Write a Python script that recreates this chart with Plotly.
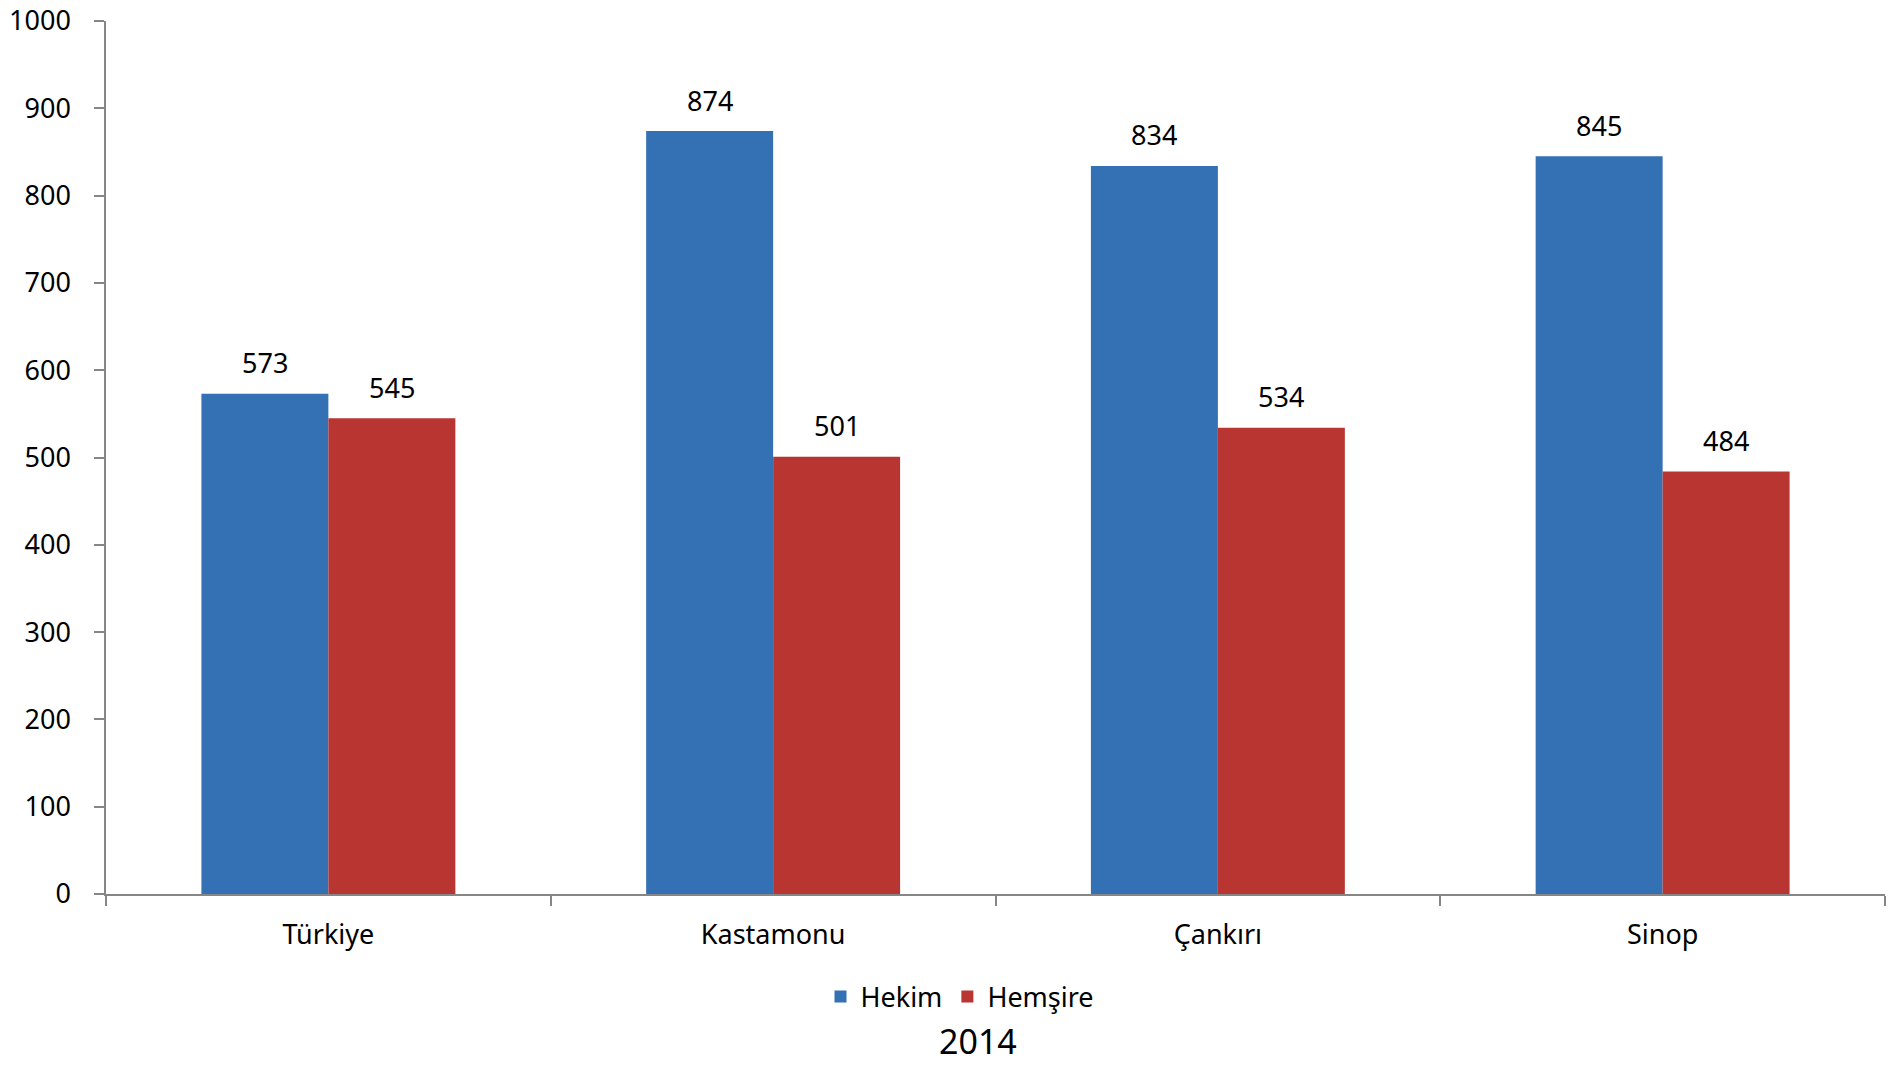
import plotly.graph_objects as go

categories = ["Türkiye", "Kastamonu", "Çankırı", "Sinop"]
hekim = [573, 874, 834, 845]
hemsire = [545, 501, 534, 484]
series_names = ["Hekim", "Hemşire"]
y_ticks = [0, 100, 200, 300, 400, 500, 600, 700, 800, 900, 1000]
title_text = "2014"

W, H = 1889, 1065
ML, MR, MT, MB = 106, 4, 21, 171
BARGAP = 0.429
FONT = "Noto Sans"
colors = ["#3470B4", "#B93532"]

fig = go.Figure()
for name, vals, col in zip(series_names, [hekim, hemsire], colors):
    fig.add_trace(go.Bar(
        x=categories, y=vals, name=name,
        marker=dict(color=col, line=dict(width=0)),
    ))

plot_w = W - ML - MR
plot_h = H - MT - MB
bar_px = plot_w / len(categories) * (1 - BARGAP) / 2
for i, vals in enumerate([hekim, hemsire]):
    for c, v in zip(categories, vals):
        fig.add_annotation(
            x=c, y=v, text=str(v), showarrow=False,
            xshift=(i - 0.5) * bar_px, yshift=31, yanchor="middle",
            font=dict(family=FONT, size=27, color="#000000"),
        )

fig.add_annotation(
    x=(978 - ML) / plot_w, y=(H - MB - 1041) / plot_h,
    xref="paper", yref="paper", text=title_text, showarrow=False,
    yanchor="middle", xanchor="center",
    font=dict(family=FONT, size=34, color="#000000"),
)

fig.update_layout(
    template="none",
    width=W, height=H,
    margin=dict(l=ML, r=MR, t=MT, b=MB, pad=0, autoexpand=False),
    paper_bgcolor="white", plot_bgcolor="white",
    barmode="group", bargap=BARGAP, bargroupgap=0,
    font=dict(family=FONT, size=27, color="#000000"),
    showlegend=True,
    legend=dict(
        orientation="h", x=(960 - ML) / plot_w, xanchor="center",
        y=(H - MB - 997) / plot_h, yanchor="middle",
        font=dict(family=FONT, size=27, color="#000000"),
        itemwidth=30, itemsizing="constant", tracegroupgap=0,
    ),
)
fig.update_yaxes(
    range=[0, 1000], tickvals=y_ticks, showgrid=False, zeroline=False,
    automargin=False,
    showline=True, linecolor="#868686", linewidth=1.5,
    ticks="outside", ticklen=10, tickcolor="#868686", tickwidth=1.5,
    ticklabelstandoff=18, ticklabeloverflow="allow",
    tickfont=dict(family=FONT, size=27, color="#000000"),
)
fig.update_xaxes(
    showgrid=False, zeroline=False, automargin=False,
    showline=True, linecolor="#868686", linewidth=1.5,
    ticks="outside", ticklen=10, tickcolor="#868686", tickwidth=1.5,
    tickson="boundaries", ticklabelstandoff=16,
    tickfont=dict(family=FONT, size=27, color="#000000"),
)

fig.write_html(
    "out.html",
    config={"displayModeBar": False},
    post_script="document.body.style.margin='0';document.body.style.overflow='hidden';",
)
